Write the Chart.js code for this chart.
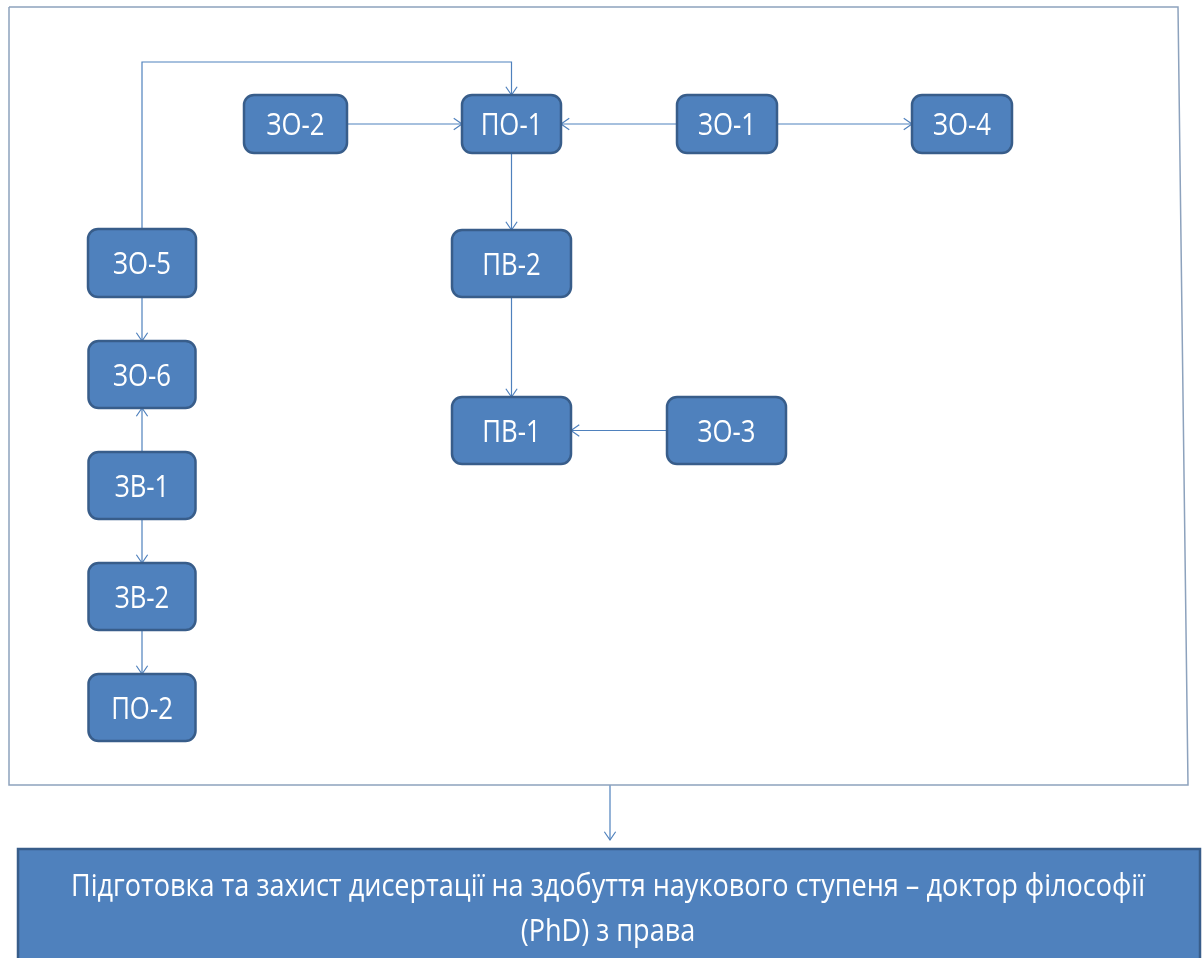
<!DOCTYPE html>
<html>
<head>
<meta charset="utf-8">
<script src="https://cdn.jsdelivr.net/npm/chart.js@4.4.1/dist/chart.umd.min.js"></script>
<style>
html,body{margin:0;padding:0;background:#fff;}
#wrap{width:1202px;height:958px;}
</style>
</head>
<body>
<div id="wrap"><canvas id="c" width="1202" height="958"></canvas></div>
<script>
// ---- data (diagram nodes, in layout units of the linear scales) ----
const nodeLabels = ['ЗО-2','ПО-1','ЗО-1','ЗО-4','ЗО-5','ПВ-2','ЗО-6','ПВ-1','ЗО-3','ЗВ-1','ЗВ-2','ПО-2'];
const nodeX      = [295.5, 511.5, 727, 962, 142, 511.5, 142, 511.5, 726.5, 142, 142, 142];
const nodeY      = [124, 124, 124, 124, 263, 263.5, 374.5, 430.5, 430.5, 485.5, 596.5, 707.5];
const edgeFrom   = ['ЗО-2','ЗО-1','ЗО-1','ПО-1','ПВ-2','ЗО-3','ЗО-5','ЗВ-1','ЗВ-1','ЗВ-2','ЗО-5'];
const edgeTo     = ['ПО-1','ПО-1','ЗО-4','ПВ-2','ПВ-1','ПВ-1','ЗО-6','ЗО-6','ЗВ-2','ПО-2','ПО-1'];
const edgeViaY   = [null, null, null, null, null, null, null, null, null, null, 62];
const outcomeText = ['Підготовка та захист дисертації на здобуття наукового ступеня – доктор філософії', '(PhD) з права'];

// ---- layout / style (kept separate from data) ----
const nodeSize = {
  'ЗО-2':[103,58],'ПО-1':[99,58],'ЗО-1':[100,58],'ЗО-4':[100,58],
  'ЗО-5':[108,68],'ПВ-2':[119,67],'ЗО-6':[107,67],'ПВ-1':[119,67],'ЗО-3':[119,67],
  'ЗВ-1':[107,67],'ЗВ-2':[107,67],'ПО-2':[107,67]
};
const frameBox = {x0:9, y0:7, x1top:1178, x1bot:1188, y1:785};
const outcomeBox = {x0:18, x1:1200, y0:849, y1:975, arrowX:610};
const FILL = '#4F81BD', STROKE = '#385D8A', LINE = '#4F81BD', FRAME = '#8DA2BD';
const FONT = '"Open Sans", "Noto Sans", sans-serif';

function nodeIdx(n){ return nodeLabels.indexOf(n); }
function edgePoints(i){
  const a = nodeIdx(edgeFrom[i]), b = nodeIdx(edgeTo[i]);
  const [aw,ah] = nodeSize[nodeLabels[a]], [bw,bh] = nodeSize[nodeLabels[b]];
  const ax = nodeX[a], ay = nodeY[a], bx = nodeX[b], by = nodeY[b];
  if (edgeViaY[i] !== null){
    const vy = edgeViaY[i];
    return [{x:ax,y:ay-ah/2},{x:ax,y:vy},{x:bx,y:vy},{x:bx,y:by-bh/2}];
  }
  if (Math.abs(ay-by) < 1){
    const dir = bx > ax ? 1 : -1;
    return [{x:ax+dir*aw/2,y:ay},{x:bx-dir*bw/2,y:ay}];
  }
  const dir = by > ay ? 1 : -1;
  return [{x:ax,y:ay+dir*ah/2},{x:ax,y:by-dir*bh/2}];
}

const datasets = [];
datasets.push({
  label:'frame', type:'line', showLine:true, fill:false, borderColor:FRAME, borderWidth:1.5,
  pointRadius:0, tension:0,
  data:[{x:frameBox.x0,y:frameBox.y0},{x:frameBox.x1top,y:frameBox.y0},{x:frameBox.x1bot,y:frameBox.y1},{x:frameBox.x0,y:frameBox.y1},{x:frameBox.x0,y:frameBox.y0}]
});
for (let i=0;i<edgeFrom.length;i++){
  datasets.push({label:'edge'+i, type:'line', showLine:true, fill:false, borderColor:LINE, borderWidth:1.2,
    pointRadius:0, tension:0, arrow:true, data:edgePoints(i)});
}
datasets.push({label:'outArrow', type:'line', showLine:true, fill:false, borderColor:LINE, borderWidth:1.2,
  pointRadius:0, tension:0, arrow:true,
  data:[{x:outcomeBox.arrowX,y:frameBox.y1},{x:outcomeBox.arrowX,y:outcomeBox.y0-9}]});
datasets.push({label:'nodes', type:'scatter', pointRadius:0, isNodes:true,
  data:nodeLabels.map((l,i)=>({x:nodeX[i], y:nodeY[i]}))});

function drawText(ctx, text, cx, baseY, size, targetScale){
  ctx.save();
  ctx.font = size+'px '+FONT;
  ctx.textAlign = 'center';
  ctx.textBaseline = 'alphabetic';
  ctx.translate(cx, baseY);
  ctx.scale(targetScale, 1);
  ctx.fillText(text, 0, 0);
  ctx.restore();
}

const diagramPlugin = {
  id:'diagram',
  beforeDatasetsDraw(chart){
    const ctx = chart.ctx, xs = chart.scales.x, ys = chart.scales.y;
    // outcome box
    const x0 = xs.getPixelForValue(outcomeBox.x0), x1 = xs.getPixelForValue(outcomeBox.x1);
    const y0 = ys.getPixelForValue(outcomeBox.y0), y1 = ys.getPixelForValue(outcomeBox.y1);
    ctx.save();
    ctx.fillStyle = FILL;
    ctx.fillRect(x0, y0, x1-x0, y1-y0);
    ctx.strokeStyle = STROKE; ctx.lineWidth = 2.5;
    ctx.strokeRect(x0, y0, x1-x0, y1-y0);
    ctx.fillStyle = '#ffffff';
    const size = 31;
    ctx.font = size+'px '+FONT;
    const w1 = ctx.measureText(outcomeText[0]).width;
    const sc = 1074 / w1;
    const cx = xs.getPixelForValue(608);
    drawText(ctx, outcomeText[0], cx, ys.getPixelForValue(885)+11, size, sc);
    drawText(ctx, outcomeText[1], cx, ys.getPixelForValue(930)+11, size, sc);
    ctx.restore();
  },
  afterDatasetsDraw(chart){
    const ctx = chart.ctx, xs = chart.scales.x, ys = chart.scales.y;
    chart.data.datasets.forEach((ds, di) => {
      const meta = chart.getDatasetMeta(di);
      if (ds.arrow){
        const pts = meta.data;
        const p = pts[pts.length-1], q = pts[pts.length-2];
        const ang = Math.atan2(p.y-q.y, p.x-q.x);
        const L = 10, A = 0.6;
        ctx.save();
        ctx.strokeStyle = LINE; ctx.lineWidth = 1.2;
        ctx.beginPath();
        ctx.moveTo(p.x - L*Math.cos(ang-A), p.y - L*Math.sin(ang-A));
        ctx.lineTo(p.x, p.y);
        ctx.lineTo(p.x - L*Math.cos(ang+A), p.y - L*Math.sin(ang+A));
        ctx.stroke();
        ctx.restore();
      }
      if (ds.isNodes){
        ctx.save();
        ctx.font = '31px '+FONT;
        const ref = ctx.measureText('ЗО-2').width;
        const sc = 58 / ref;
        meta.data.forEach((el, i) => {
          const [w,h] = nodeSize[nodeLabels[i]];
          const pw = xs.getPixelForValue(nodeX[i]+w/2) - xs.getPixelForValue(nodeX[i]-w/2);
          const ph = ys.getPixelForValue(nodeY[i]+h/2) - ys.getPixelForValue(nodeY[i]-h/2);
          ctx.beginPath();
          ctx.roundRect(el.x-pw/2, el.y-ph/2, pw, ph, 10);
          ctx.fillStyle = FILL; ctx.fill();
          ctx.strokeStyle = STROKE; ctx.lineWidth = 2.5; ctx.stroke();
          ctx.fillStyle = '#ffffff';
          drawText(ctx, nodeLabels[i], el.x, el.y+11, 31, sc);
        });
        ctx.restore();
      }
    });
  }
};

new Chart(document.getElementById('c'), {
  type:'scatter',
  data:{datasets},
  options:{
    responsive:false, animation:false, devicePixelRatio:1,
    layout:{padding:0},
    plugins:{legend:{display:false}, tooltip:{enabled:false}, title:{display:false}},
    scales:{
      x:{type:'linear', min:0, max:1202, display:false},
      y:{type:'linear', min:0, max:958, reverse:true, display:false}
    },
    elements:{line:{borderJoinStyle:'miter'}}
  },
  plugins:[diagramPlugin]
});
</script>
</body>
</html>
